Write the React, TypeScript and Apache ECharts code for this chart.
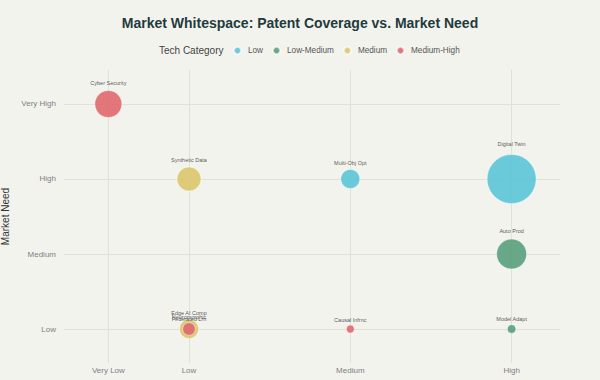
import React, { useEffect, useRef } from "react";
import * as echarts from "echarts";

const titleText = "Market Whitespace: Patent Coverage vs. Market Need";
const legendTitle = "Tech Category";

const categories = ["Low", "Low-Medium", "Medium", "Medium-High"];
const categoryColors = ["#5CC5D6", "#5A9E7D", "#DCC66B", "#E0686E"];

const patentLevels = ["Very Low", "Low", "Medium", "High"];
const patentLevelValues = [0, 1, 3, 5];
const needLevels = ["Low", "Medium", "High", "Very High"];
const needLevelValues = [1, 2, 3, 4];

const techNames = [
  "Cyber Security",
  "Synthetic Data",
  "Multi-Obj Opt",
  "Digital Twin",
  "Auto Prod",
  "Causal Infrnc",
  "Model Adapt",
  "Edge AI Comp",
  "Federated Lrn",
  "Neuromorphic",
];
const patentCoverage = ["Very Low", "Low", "Medium", "High", "High", "Medium", "High", "Low", "Low", "Low"];
const marketNeed = ["Very High", "High", "High", "High", "Medium", "Low", "Low", "Low", "Low", "Low"];
const techCategory = [
  "Medium-High",
  "Medium",
  "Low",
  "Low",
  "Low-Medium",
  "Medium-High",
  "Low-Medium",
  "Medium",
  "Low-Medium",
  "Medium-High",
];
const marketSize = [5.4, 4.8, 3.8, 9.8, 6.0, 1.6, 1.7, 3.8, 1.8, 2.5];

const FONT = "'Liberation Sans', Arial, Helvetica, sans-serif";

export default function App() {
  const ref = useRef<HTMLDivElement>(null);
  useEffect(() => {
    if (!ref.current) return;
    const chart = echarts.init(ref.current, undefined, { renderer: "svg" });
    const sizeScale = 5;
    const series = categories.map((cat, ci) => {
      const data: any[] = [];
      techNames.forEach((name, i) => {
        if (techCategory[i] !== cat) return;
        const x = patentLevelValues[patentLevels.indexOf(patentCoverage[i])];
        const y = needLevelValues[needLevels.indexOf(marketNeed[i])];
        const s = marketSize[i] * sizeScale;
        data.push({
          name,
          value: [x, y, marketSize[i]],
          symbolSize: s,
          label: { distance: 1 + 0.12 * s },
        });
      });
      return {
        name: cat,
        type: "scatter",
        data,
        itemStyle: {
          color: categoryColors[ci],
          opacity: 0.9,
          borderColor: "rgba(255,255,255,0.6)",
          borderWidth: 0.8,
        },
        label: {
          show: true,
          position: "top",
          formatter: (p: any) => p.name,
          fontSize: 5.5,
          color: "#444",
          fontFamily: FONT,
        },
        emphasis: { disabled: true },
      };
    });

    chart.setOption({
      animation: false,
      backgroundColor: "#F3F3EE",
      textStyle: { fontFamily: FONT },
      title: {
        text: titleText,
        left: "center",
        top: 11,
        textStyle: { fontSize: 14, fontWeight: "bold", color: "#1F3B3D", fontFamily: FONT },
      },
      graphic: [
        {
          type: "text",
          left: 159,
          top: 45,
          style: { text: legendTitle, fontSize: 10, fill: "#444", fontFamily: FONT },
        },
      ],
      legend: {
        data: categories,
        left: 228,
        top: 41,
        icon: "circle",
        itemWidth: 7,
        itemHeight: 7,
        itemGap: 9,
        textStyle: { fontSize: 8.2, color: "#555", fontFamily: FONT, padding: [0, 0, 0, 2] },
        selectedMode: false,
      },
      grid: { left: 64, right: 40, top: 70, bottom: 17, containLabel: false, outerBoundsMode: "none" },
      xAxis: {
        type: "value",
        min: -0.55,
        max: 5.6,
        axisLine: { show: false },
        axisTick: { show: false, customValues: patentLevelValues },
        axisLabel: {
          customValues: patentLevelValues,
          formatter: (v: number) => patentLevels[patentLevelValues.indexOf(v)] ?? "",
          fontSize: 8,
          color: "#808080",
          margin: 3,
          fontFamily: FONT,
        },
        splitLine: { show: true, lineStyle: { color: "#E1E1DB", width: 1 } },
      },
      yAxis: {
        type: "value",
        min: 0.547,
        max: 4.453,
        name: "Market Need",
        nameLocation: "middle",
        nameGap: 46,
        nameRotate: 90,
        nameTextStyle: { fontSize: 10, color: "#333", fontFamily: FONT },
        axisLine: { show: false },
        axisTick: { show: false, customValues: needLevelValues },
        axisLabel: {
          customValues: needLevelValues,
          formatter: (v: number) => needLevels[needLevelValues.indexOf(v)] ?? "",
          fontSize: 8,
          color: "#808080",
          margin: 8,
          fontFamily: FONT,
        },
        splitLine: { show: true, lineStyle: { color: "#E1E1DB", width: 1 } },
      },
      series,
    });
    return () => chart.dispose();
  }, []);
  return (
    <div
      ref={ref}
      style={{ position: "fixed", left: 0, top: 0, width: 600, height: 380 }}
    />
  );
}
